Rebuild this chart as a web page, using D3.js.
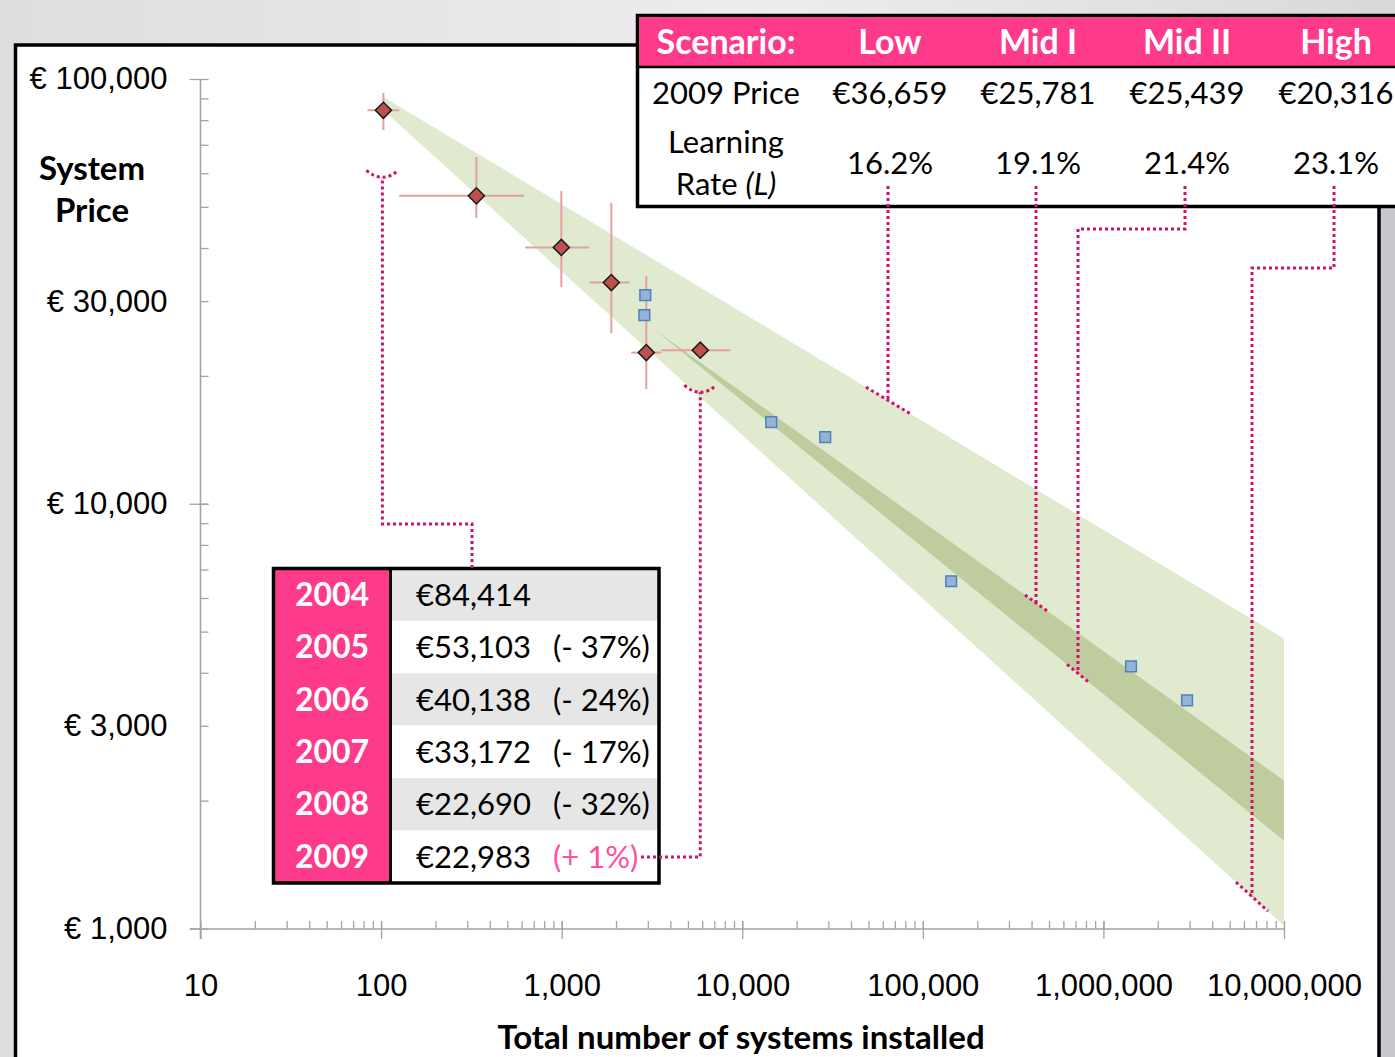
<!DOCTYPE html>
<meta charset="utf-8">
<style>
    body { margin: 0; background: #e6e5e7; }
    svg { display: block; font-family: Lato, "Open Sans", sans-serif; }
</style>
<svg width="1395" height="1057"></svg>
<script src="https://d3js.org/d3.v7.min.js"></script>
<script>
    // yearly averages (installed systems, price in EUR)
    const years = ["2004", "2005", "2006", "2007", "2008", "2009"];
    const yearPrices = [84414, 53103, 40138, 33172, 22690, 22983];
    const yearChange = ["", "(- 37%)", "(- 24%)", "(- 17%)", "(- 32%)", "(+ 1%)"];
    const yearInstalled = [103, 337, 996, 1884, 2942, 5855];
    const xErrLo = [84, 126, 629, 1423, 2429, 3561];
    const xErrHi = [126, 621, 1423, 2368, 3561, 8580];
    const yErrLo = [75850, 47060, 32360, 25210, 18620, null];
    const yErrHi = [92700, 65500, 54480, 51040, 34340, null];

    // other reference systems (blue squares)
    const otherInstalled = [2904, 2870, 14470, 28800, 143500, 1422000, 2905000];
    const otherPrices = [30990, 27800, 15560, 14350, 6570, 4142, 3444];

    // scenario table
    const scenarios = ["Low", "Mid I", "Mid II", "High"];
    const scenarioPrice = ["€36,659", "€25,781", "€25,439", "€20,316"];
    const learningRates = ["16.2%", "19.1%", "21.4%", "23.1%"];

    // projection bands (low..high outer, mid I..mid II inner)
    const outerX = [103, 1e7];
    const outerLow = [90700, 4820];
    const outerHigh = [84400, 1016];
    const innerX = [3300, 1e7];
    const innerMidI = [25630, 2230];
    const innerMidII = [25630, 1610];

    // axes
    const xTicks = [10, 100, 1e3, 1e4, 1e5, 1e6, 1e7];
    const xTickLabels = ["10", "100", "1,000", "10,000", "100,000", "1,000,000", "10,000,000"];
    const yTicks = [100000, 30000, 10000, 3000, 1000];
    const yTickLabels = ["€ 100,000", "€ 30,000", "€ 10,000", "€ 3,000", "€ 1,000"];

    const pink = "#fe3a8a", dotCol = "#d0136a", axisCol = "#a3a3a3";

    const svg = d3.select("svg");
    const x = d3.scaleLog().domain([10, 1e7]).range([200.5, 1284]);
    const y = d3.scaleLog().domain([1000, 100000]).range([928.5, 79]);

    // backdrop
    const grad = svg.append("defs").append("linearGradient").attr("id", "bg");
    grad.append("stop").attr("offset", "0%").attr("stop-color", "#dedede");
    grad.append("stop").attr("offset", "55%").attr("stop-color", "#eeecef");
    grad.append("stop").attr("offset", "100%").attr("stop-color", "#d9d8da");
    svg.append("rect").attr("width", 1395).attr("height", 1057).attr("fill", "url(#bg)");
    svg.append("rect").attr("x", 1381).attr("y", 40).attr("width", 20).attr("height", 1020).attr("fill", "#c9c7cb");
    svg.append("rect").attr("x", 15.5).attr("y", 45).attr("width", 1363.5).attr("height", 1100)
        .attr("fill", "#fff").attr("stroke", "#000").attr("stroke-width", 3.5);

    // bands
    const band = (xs, hi, lo) => d3.area()
        .x((d, i) => x(xs[i])).y0((d, i) => y(lo[i])).y1((d, i) => y(hi[i]))(xs);
    svg.append("path").attr("d", band(outerX, outerLow, outerHigh)).attr("fill", "#e0eacf");
    svg.append("path").attr("d", band(innerX, innerMidI, innerMidII)).attr("fill", "#bfcc9e");

    // axes
    const xMinor = [], yMinor = [];
    for (let p = 10; p < 1e7; p *= 10) for (let k = 1; k <= 10; k++) xMinor.push(p * k);
    for (let p = 1000; p < 100000; p *= 10) for (let k = 1; k <= 10; k++) yMinor.push(p * k);

    function styleAxis(g) {
        g.select(".domain").remove();
        g.selectAll("line").attr("stroke", axisCol).attr("stroke-width", 1.3);
        g.selectAll("text").attr("fill", "#000").attr("font-size", 31);
    }
    svg.append("line").attr("x1", 190).attr("x2", 1284).attr("y1", 929).attr("y2", 929)
        .attr("stroke", axisCol).attr("stroke-width", 1.6);
    svg.append("line").attr("x1", 200.5).attr("x2", 200.5).attr("y1", 79).attr("y2", 939)
        .attr("stroke", axisCol).attr("stroke-width", 1.6);

    svg.append("g").attr("transform", "translate(0,929)")
        .call(d3.axisTop(x).tickValues(xMinor).tickSize(8).tickFormat(""))
        .call(styleAxis);
    svg.append("g").attr("transform", "translate(0,929)")
        .call(d3.axisBottom(x).tickValues(xTicks).tickSize(10).tickPadding(35)
            .tickFormat((d, i) => xTickLabels[i]))
        .call(styleAxis);

    svg.append("g").attr("transform", "translate(200.5,0)")
        .call(d3.axisRight(y).tickValues(yMinor).tickSize(8).tickFormat(""))
        .call(styleAxis);
    svg.append("g").attr("transform", "translate(200.5,0)")
        .call(d3.axisLeft(y).tickValues([100000, 10000, 1000]).tickSize(11).tickFormat(""))
        .call(styleAxis);
    svg.append("g").attr("transform", "translate(200.5,0)")
        .call(d3.axisLeft(y).tickValues(yTicks).tickSize(0).tickPadding(33)
            .tickFormat((d, i) => yTickLabels[i]))
        .call(styleAxis);

    svg.append("text").attr("x", 741).attr("y", 1049).attr("text-anchor", "middle")
        .attr("font-size", 33).attr("font-weight", "bold").text("Total number of systems installed");
    svg.append("text").attr("text-anchor", "middle").attr("font-size", 33).attr("font-weight", "bold")
        .selectAll("tspan").data(["System", "Price"]).join("tspan")
        .attr("x", 92).attr("y", (d, i) => 180 + i * 42).text(d => d);

    // error bars
    const errCol = "#e4a0a0";
    const eb = svg.append("g").attr("stroke", errCol).attr("stroke-width", 2);
    years.forEach((yr, i) => {
        eb.append("line").attr("x1", x(xErrLo[i])).attr("x2", x(xErrHi[i]))
            .attr("y1", y(yearPrices[i])).attr("y2", y(yearPrices[i]));
        if (yErrLo[i] != null)
            eb.append("line").attr("x1", x(yearInstalled[i])).attr("x2", x(yearInstalled[i]))
                .attr("y1", y(yErrLo[i])).attr("y2", y(yErrHi[i]));
    });

    // markers
    svg.append("g").selectAll("path").data(years).join("path")
        .attr("d", d3.symbol(d3.symbolSquare, 130))
        .attr("transform", (d, i) => `translate(${x(yearInstalled[i])},${y(yearPrices[i])}) rotate(45)`)
        .attr("fill", "#c0504d").attr("stroke", "#1b1b1b").attr("stroke-width", 1.5);
    svg.append("g").selectAll("path").data(otherPrices).join("path")
        .attr("d", d3.symbol(d3.symbolSquare, 115))
        .attr("transform", (d, i) => `translate(${x(otherInstalled[i])},${y(d)})`)
        .attr("fill", "#95b3d7").attr("stroke", "#4f81bd").attr("stroke-width", 1.5);

    // year table
    const bt = svg.append("g");
    const rowH = 314.5 / 6, tblTop = 568.5;
    bt.append("rect").attr("x", 273.5).attr("y", tblTop).attr("width", 117).attr("height", 314.5).attr("fill", pink);
    bt.selectAll(".row").data(years).join("rect")
        .attr("x", 390).attr("y", (d, i) => tblTop + i * rowH).attr("width", 268.5).attr("height", rowH)
        .attr("fill", (d, i) => i % 2 ? "#fff" : "#e6e6e6");
    bt.selectAll(".yr").data(years).join("text")
        .attr("x", 332).attr("y", (d, i) => tblTop + (i + 0.5) * rowH + 11).attr("text-anchor", "middle")
        .attr("fill", "#fff").attr("font-weight", "bold").attr("font-size", 32).text(d => d);
    bt.selectAll(".pr").data(yearPrices).join("text")
        .attr("x", 416).attr("y", (d, i) => tblTop + (i + 0.5) * rowH + 11).attr("font-size", 31)
        .text(d => "€" + d3.format(",")(d));
    bt.selectAll(".ch").data(yearChange).join("text")
        .attr("x", 553).attr("y", (d, i) => tblTop + (i + 0.5) * rowH + 11).attr("font-size", 31)
        .attr("fill", d => d.startsWith("(+") ? "#ff4fa3" : "#000").text(d => d);
    bt.append("line").attr("x1", 390.5).attr("x2", 390.5).attr("y1", tblTop).attr("y2", tblTop + 314.5)
        .attr("stroke", "#000").attr("stroke-width", 3);
    bt.append("rect").attr("x", 273.5).attr("y", tblTop).attr("width", 385.5).attr("height", 314.5)
        .attr("fill", "none").attr("stroke", "#000").attr("stroke-width", 3.5);

    // scenario table
    const colX = [889, 1037, 1186, 1335];
    const tt = svg.append("g");
    tt.append("rect").attr("x", 637.5).attr("y", 15.5).attr("width", 800).attr("height", 191)
        .attr("fill", "#fff").attr("stroke", "#000").attr("stroke-width", 3.5);
    tt.append("rect").attr("x", 639).attr("y", 17).attr("width", 800).attr("height", 49).attr("fill", pink);
    tt.append("line").attr("x1", 637).attr("x2", 1400).attr("y1", 67).attr("y2", 67)
        .attr("stroke", "#000").attr("stroke-width", 2.5);
    tt.append("text").attr("x", 726).attr("y", 54).attr("text-anchor", "middle").attr("fill", "#fff")
        .attr("font-weight", "bold").attr("font-size", 34).text("Scenario:");
    tt.selectAll(".hd").data(scenarios).join("text")
        .attr("x", (d, i) => colX[i] + 1).attr("y", 54).attr("text-anchor", "middle").attr("fill", "#fff")
        .attr("font-weight", "bold").attr("font-size", 34).text(d => d);
    tt.append("text").attr("x", 726).attr("y", 104).attr("text-anchor", "middle")
        .attr("font-size", 31).text("2009 Price");
    tt.selectAll(".sp").data(scenarioPrice).join("text")
        .attr("x", (d, i) => colX[i] + 1).attr("y", 104).attr("text-anchor", "middle")
        .attr("font-size", 31).text(d => d);
    tt.append("text").attr("x", 726).attr("y", 153).attr("text-anchor", "middle")
        .attr("font-size", 31).text("Learning");
    const rl = tt.append("text").attr("x", 726).attr("y", 195).attr("text-anchor", "middle").attr("font-size", 31);
    rl.append("tspan").text("Rate ");
    rl.append("tspan").attr("font-style", "italic").text("(L)");
    tt.selectAll(".lr").data(learningRates).join("text")
        .attr("x", (d, i) => colX[i] + 1).attr("y", 174).attr("text-anchor", "middle")
        .attr("font-size", 31).text(d => d);

    // dotted leaders (on top of everything)
    const lead = svg.append("g").attr("fill", "none").attr("stroke", dotCol)
        .attr("stroke-width", 3).attr("stroke-dasharray", "3 3");
    const smile = (cx, cy) => `M${cx - 16},${cy - 7}Q${cx},${cy + 7} ${cx + 16},${cy - 7}`;
    const px1 = x(yearInstalled[0]) - 1, py1 = y(yearPrices[0]) + 67;
    lead.append("path").attr("d", `M472,568V524H${px1}V${py1}`);
    lead.append("path").attr("d", smile(px1, py1));
    const px6 = x(yearInstalled[5]), py6 = y(yearPrices[5]) + 42;
    lead.append("path").attr("d", `M641,857H${px6}V${py6}`);
    lead.append("path").attr("d", smile(px6, py6));

    const edgeY = (xs, vs, px) => {
        const x0 = x(xs[0]), x1 = x(xs[1]), y0 = y(vs[0]), y1 = y(vs[1]);
        return y0 + (y1 - y0) * (px - x0) / (x1 - x0);
    };
    const edges = [[outerX, outerLow, 22], [innerX, innerMidI, 11], [innerX, innerMidII, 11], [outerX, outerHigh, 16]];
    const dropX = [888, 1036, 1078, 1252];
    const elbowY = [null, null, 229, 268];
    edges.forEach(([xs, vs, half], i) => {
        const ex = dropX[i], ey = edgeY(xs, vs, ex);
        let d = `M${dropX[i] === colX[i] || elbowY[i] == null ? ex : colX[i] - 1},186`;
        if (elbowY[i] != null) d += `V${elbowY[i]}H${ex}`;
        d += `V${ey}`;
        lead.append("path").attr("d", d);
        lead.append("path").attr("d", `M${ex - half},${edgeY(xs, vs, ex - half)}L${ex + half},${edgeY(xs, vs, ex + half)}`);
    });
</script>
